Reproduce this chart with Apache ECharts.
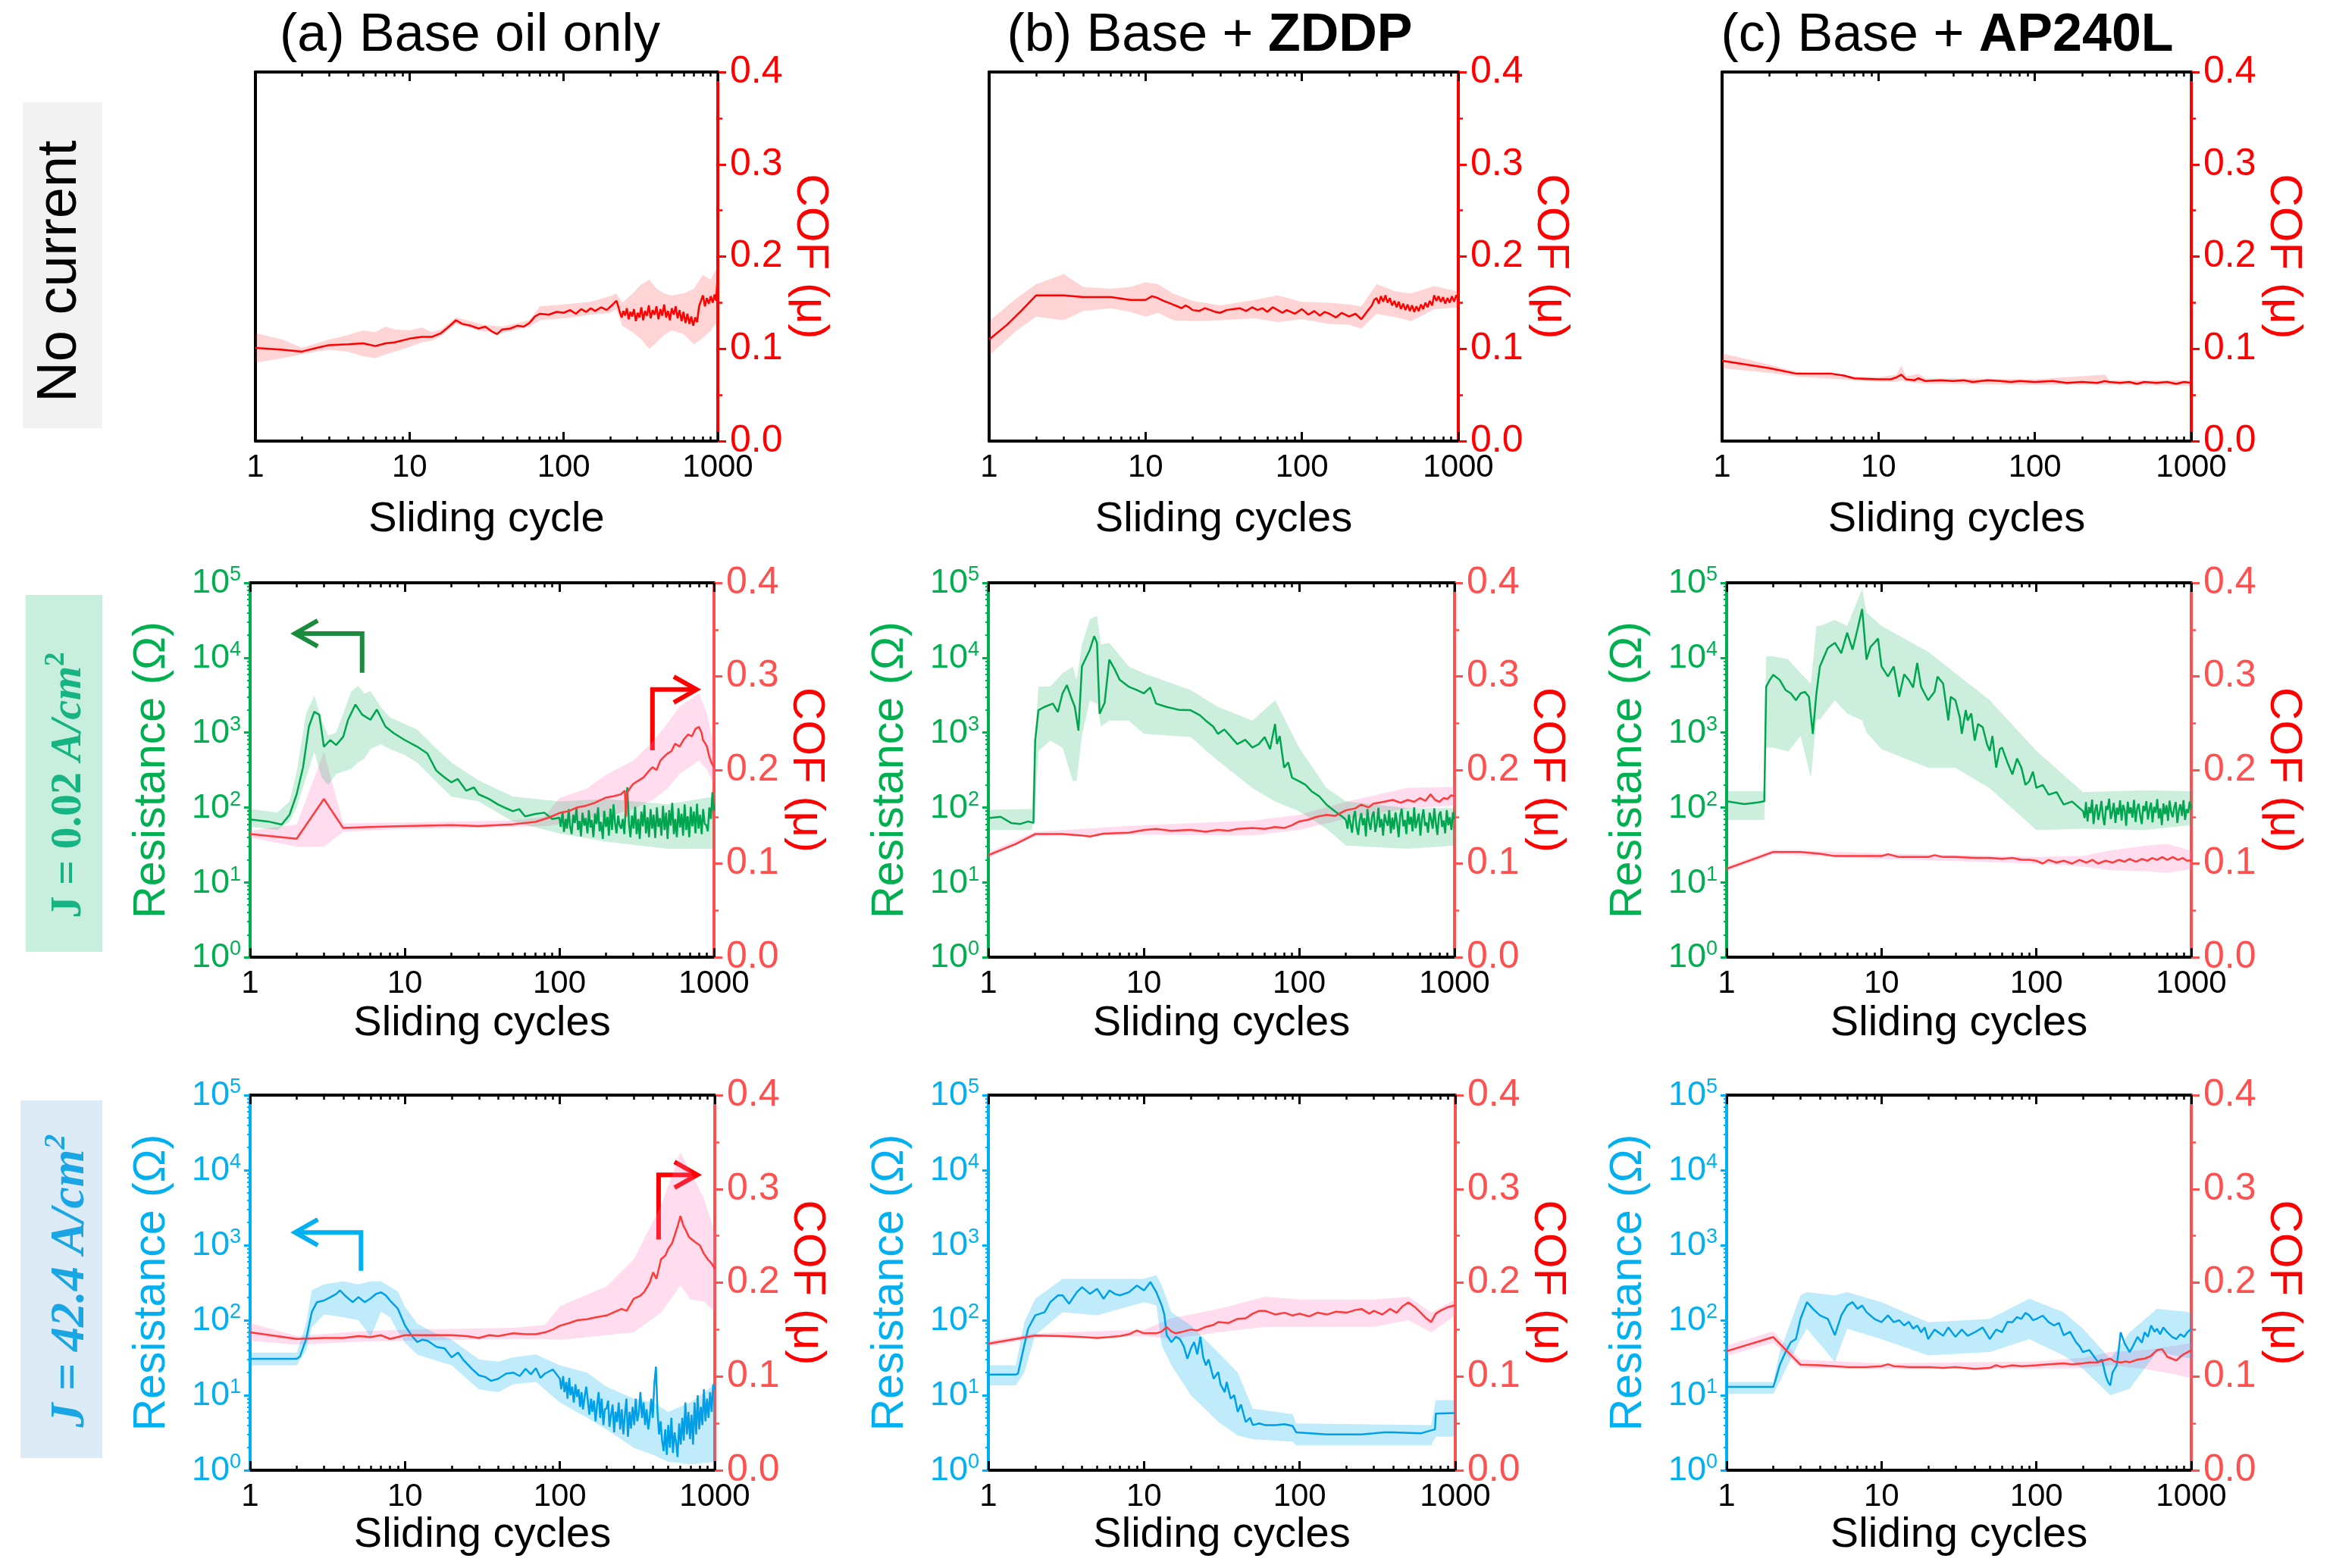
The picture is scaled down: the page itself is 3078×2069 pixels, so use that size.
<!DOCTYPE html>
<html>
<head>
<meta charset="utf-8">
<script src="https://cdn.jsdelivr.net/npm/echarts@6.0.0/dist/echarts.min.js"></script>
<style>
  html, body { margin: 0; padding: 0; background: #fff; }
  #chart { width: 3078px; height: 2069px; }
</style>
</head>
<body>
<div id="chart"></div>
<script>
// ---- labels ----
const colTitles = [
  '{n|(a) Base oil only}',
  '{n|(b) Base + }{b|ZDDP}',
  '{n|(c) Base + }{b|AP240L}'
];
const xNames = ['Sliding cycle', 'Sliding cycles', 'Sliding cycles'];

const denseX = [100,102,105,107,110,112,115,117,120,123,126,129,132,135,138,141,145,148,152,155,159,162,166,170,174,178,182,186,191,195,
  200,205,209,214,219,224,229,234,240,245,251,257,263,269,275,282,288,295,302,309,316,324,331,339,347,355,363,372,380,389,
  398,407,417,427,437,447,457,468,479,490,501,513,525,537,550,562,575,589,603,617,631,646,661,676,692,708,724,741,759,776,
  794,813,832,851,871,891,912,933,955,977,1000];

// ---- row 1 : no current (COF only) ----  [cycle, COF]  /  band [cycle, low, high]
const a1Cof = [[1,0.101],[1.5,0.099],[2,0.097],[2.5,0.101],[3,0.104],[4,0.105],[5,0.106],[6,0.103],[7,0.106],[8,0.107],[10,0.111],[12,0.113],[14,0.113],[16,0.117],[18,0.124],[20,0.131],[22,0.127],[25,0.125],[28,0.122],[31,0.124],[34,0.119],[37,0.116],[40,0.121],[45,0.122],[50,0.125],[55,0.124],[60,0.128],[65,0.135],[70,0.138],[80,0.137],[90,0.140],[100,0.139],[110,0.142],[120,0.138],[130,0.143],[140,0.140],[150,0.144],[160,0.141],[175,0.145],[190,0.142],[205,0.147],[220,0.152],[226,0.146],[232,0.139],[238,0.134],[244,0.141],[250,0.136],[257,0.144],[264,0.132],[271,0.140],[278,0.135],[286,0.143],[294,0.130],[302,0.139],[310,0.134],[319,0.145],[328,0.131],[337,0.141],[347,0.136],[357,0.147],[367,0.133],[378,0.142],[389,0.137],[400,0.146],[412,0.132],[424,0.143],[436,0.136],[449,0.148],[462,0.134],[475,0.141],[489,0.131],[503,0.144],[518,0.137],[533,0.146],[549,0.133],[565,0.142],[582,0.130],[599,0.140],[617,0.128],[635,0.138],[654,0.127],[673,0.135],[693,0.125],[713,0.134],[734,0.129],[756,0.146],[778,0.152],[801,0.158],[825,0.146],[849,0.155],[874,0.149],[900,0.157],[927,0.150],[954,0.159],[975,0.152],[990,0.170],[1000,0.188]];
const a1CofBand = [[1,0.085,0.117],[1.5,0.090,0.110],[2,0.094,0.101],[2.5,0.097,0.106],[3,0.099,0.110],[4,0.097,0.115],[5,0.092,0.120],[6,0.090,0.118],[7,0.094,0.124],[8,0.097,0.121],[10,0.102,0.120],[12,0.107,0.123],[14,0.109,0.118],[16,0.114,0.121],[20,0.127,0.134],[30,0.119,0.126],[40,0.117,0.124],[60,0.124,0.131],[70,0.131,0.146],[100,0.133,0.148],[150,0.137,0.151],[200,0.139,0.157],[220,0.143,0.160],[240,0.125,0.150],[280,0.118,0.160],[320,0.110,0.170],[360,0.100,0.175],[400,0.107,0.165],[450,0.115,0.160],[500,0.120,0.158],[600,0.116,0.160],[700,0.105,0.165],[800,0.112,0.180],[900,0.120,0.175],[1000,0.130,0.190]];

const b1Cof = [[1,0.110],[1.3,0.126],[1.6,0.141],[2,0.158],[3,0.158],[4,0.156],[6,0.156],[8,0.153],[10,0.153],[11,0.157],[12,0.155],[13,0.152],[14,0.150],[15,0.148],[16,0.146],[17,0.144],[18,0.147],[19,0.145],[20,0.142],[22,0.141],[24,0.144],[26,0.142],[28,0.140],[30,0.139],[33,0.142],[36,0.143],[40,0.144],[44,0.141],[48,0.145],[52,0.142],[56,0.144],[60,0.140],[65,0.145],[70,0.142],[75,0.139],[80,0.142],[90,0.138],[100,0.143],[110,0.137],[120,0.141],[130,0.136],[140,0.140],[150,0.138],[165,0.134],[180,0.139],[200,0.135],[220,0.138],[240,0.132],[260,0.140],[280,0.147],[290,0.153],[300,0.155],[310,0.149],[320,0.157],[331,0.151],[342,0.158],[353,0.150],[365,0.155],[377,0.147],[390,0.152],[403,0.145],[416,0.151],[430,0.143],[444,0.149],[459,0.142],[474,0.148],[490,0.141],[506,0.147],[523,0.140],[540,0.146],[558,0.141],[577,0.148],[596,0.143],[616,0.150],[636,0.145],[657,0.152],[679,0.147],[701,0.158],[724,0.152],[748,0.157],[773,0.151],[799,0.156],[825,0.149],[853,0.155],[881,0.150],[910,0.157],[940,0.151],[970,0.158],[1000,0.154]];
const b1CofBand = [[1,0.093,0.130],[1.5,0.120,0.155],[2,0.135,0.170],[3,0.131,0.181],[4,0.141,0.167],[6,0.144,0.165],[8,0.140,0.167],[10,0.135,0.172],[12,0.139,0.170],[15,0.131,0.160],[20,0.130,0.152],[30,0.131,0.147],[50,0.133,0.153],[70,0.129,0.158],[100,0.132,0.151],[150,0.127,0.150],[200,0.126,0.148],[240,0.122,0.146],[300,0.138,0.170],[400,0.134,0.162],[500,0.130,0.160],[700,0.143,0.168],[1000,0.145,0.162]];

const c1Cof = [[1,0.087],[2,0.079],[3,0.073],[5,0.073],[6,0.071],[7,0.068],[10,0.067],[12,0.067],[13,0.069],[14,0.072],[15,0.067],[17,0.066],[18,0.068],[20,0.065],[25,0.066],[30,0.065],[35,0.066],[40,0.064],[50,0.066],[60,0.065],[70,0.064],[80,0.065],[100,0.064],[130,0.065],[160,0.063],[200,0.064],[250,0.063],[280,0.065],[300,0.064],[350,0.063],[400,0.064],[450,0.062],[500,0.064],[600,0.063],[700,0.064],[800,0.062],[900,0.064],[1000,0.063]];
const c1CofBand = [[1,0.079,0.095],[2,0.074,0.083],[3,0.070,0.075],[7,0.066,0.070],[10,0.064,0.069],[13,0.064,0.072],[14,0.066,0.082],[15,0.064,0.070],[18,0.063,0.073],[20,0.062,0.068],[30,0.062,0.068],[100,0.061,0.067],[280,0.061,0.072],[300,0.061,0.066],[1000,0.060,0.066]];

// ---- row 2 : J = 0.02 A/cm2 ----  resistance [cycle, ohm]
const a2ResHead = [[1,69],[1.3,65],[1.6,59],[1.8,80],[2,150],[2.2,345],[2.4,1200],[2.6,1900],[2.8,1730],[3,646],[3.3,794],[3.6,680],[4,880],[4.3,1480],[4.8,2370],[5.3,1740],[6,1480],[6.6,2030],[7.5,1200],[8.5,980],[10,794],[12,650],[14,525],[16,310],[18,253],[20,216],[22,240],[25,167],[28,185],[30,150],[35,130],[40,110],[45,98],[50,89],[55,95],[60,76],[70,82],[80,85],[90,70]];
const a2ResTail = [73,55,88,47,70,52,95,58,44,80, 62,98,50,66,41,85,57,72,45,92, 54,68,40,83,60,100,48,64,38,90,
  55,75,42,96,50,110,62,45,78,58, 52,70,44,102,186,60,40,78,52,102, 44,70,38,88,56,108,45,74,40,95,
  52,80,39,100,55,72,42,105,50,85, 38,92,57,115,44,70,40,98,54,82, 42,110,50,76,40,102,56,88,45,112,
  52,80,44,95,60,58,48,100,70,160, 90];
const a2ResBand = [[1,55,95],[1.5,50,85],[1.8,65,120],[2,100,300],[2.3,250,1800],[2.6,550,3100],[2.9,250,1500],[3.2,200,900],[3.6,280,1000],[4,300,1800],[4.5,330,3500],[5,400,4200],[5.5,450,3300],[6,600,3600],[7,700,2200],[8,600,1600],[10,500,1300],[12,400,1100],[15,250,700],[20,140,400],[30,120,230],[50,65,140],[100,45,120],[200,35,130],[500,28,110],[1000,28,140]];
const a2Cof = [[1,0.1315],[2,0.1265],[3,0.169],[4,0.138],[6,0.139],[10,0.140],[20,0.141],[30,0.140],[50,0.142],[70,0.1445],[85,0.149],[100,0.154],[115,0.156],[130,0.160],[150,0.162],[170,0.165],[185,0.168],[200,0.1705],[225,0.172],[250,0.174],[265,0.178],[270,0.150],[275,0.176],[290,0.182],[300,0.185],[320,0.188],[350,0.192],[375,0.198],[400,0.203],[425,0.200],[450,0.210],[475,0.214],[500,0.2175],[530,0.220],[560,0.228],[600,0.225],[640,0.233],[680,0.238],[720,0.236],[760,0.244],[800,0.246],[830,0.240],[850,0.232],[880,0.228],[900,0.225],[930,0.215],[960,0.208],[1000,0.203]];
const a2CofBand = [[1,0.128,0.135],[2,0.118,0.142],[3,0.118,0.219],[4,0.134,0.143],[10,0.137,0.144],[50,0.139,0.146],[80,0.140,0.150],[100,0.142,0.170],[150,0.148,0.180],[200,0.150,0.195],[300,0.158,0.210],[400,0.168,0.230],[500,0.180,0.250],[600,0.196,0.268],[800,0.210,0.282],[900,0.200,0.260],[1000,0.185,0.225]];

const b2ResHead = [[1,72],[1.2,75],[1.4,62],[1.6,60],[1.8,65],[1.95,62],[2,780],[2.1,1990],[2.3,2200],[2.6,2440],[2.8,1880],[3,3330],[3.2,4300],[3.4,3000],[3.6,2200],[3.8,1060],[4,7630],[4.5,12800],[4.8,19400],[5,15800],[5.2,1780],[5.6,2500],[6,9400],[6.5,7000],[7,5050],[8,4100],[9,3700],[10,3330],[11,4000],[12,2440],[14,2200],[17,2000],[20,1990],[23,1700],[25,1450],[28,1200],[30,960],[33,1100],[35,960],[40,700],[45,800],[50,630],[55,700],[60,870],[65,600],[70,1300],[72,700],[75,900],[80,340],[85,400],[90,250],[100,224],[110,200],[120,165],[135,140],[150,109],[170,89],[190,75]];
const b2ResTail = [68,52,80,61,46,74,90,55,43,66, 84,58,72,41,95,63,50,77,88,47, 60,99,54,70,42,82,65,57,92,45,
  73,51,86,62,40,78,96,56,68,44, 89,59,75,48,100,53,66,83,42,71, 94,57,63,46,85,69,52,97,60,43,
  79,88,55,67,45,92,58,74,50,86, 70];
const b2ResBand = [[1,50,93],[1.9,50,95],[2,100,900],[2.1,570,4100],[2.5,780,4100],[3,630,6200],[3.5,224,7630],[3.7,230,5000],[4,900,15000],[4.5,2700,32600],[5,2400,36000],[5.3,1200,15000],[6,1450,15800],[8,1450,7630],[10,960,6200],[20,870,3700],[30,420,2200],[50,182,1450],[70,120,2700],[100,89,630],[150,52,182],[200,31,120],[500,28,98],[1000,31,98]];
const b2Cof = [[1,0.109],[1.5,0.121],[2,0.1315],[3,0.1315],[4,0.130],[4.5,0.129],[5.5,0.132],[8,0.133],[10,0.1358],[12,0.137],[15,0.135],[20,0.136],[25,0.134],[30,0.136],[35,0.135],[40,0.137],[50,0.138],[60,0.137],[70,0.139],[80,0.138],[90,0.141],[100,0.145],[115,0.147],[130,0.150],[150,0.152],[170,0.151],[200,0.157],[230,0.159],[250,0.163],[280,0.160],[300,0.164],[350,0.166],[400,0.168],[450,0.165],[500,0.168],[550,0.166],[600,0.170],[650,0.167],[700,0.174],[750,0.168],[800,0.166],[850,0.170],[900,0.169],[950,0.173],[1000,0.172]];
const b2CofBand = [[1,0.106,0.112],[2,0.129,0.134],[10,0.131,0.141],[50,0.130,0.146],[100,0.136,0.152],[200,0.148,0.166],[500,0.159,0.181],[1000,0.162,0.182]];

const c2ResHead = [[1,121],[1.3,111],[1.6,117],[1.75,121],[1.8,4100],[1.9,5050],[2,5900],[2.2,5050],[2.4,3700],[2.6,3330],[2.8,2700],[3,3330],[3.2,3500],[3.4,3000],[3.6,960],[3.8,3330],[4,7630],[4.5,13500],[5,15800],[5.5,11500],[6,21500],[6.5,12800],[7,24000],[7.5,44600],[8,9400],[8.5,14000],[9,15800],[9.5,18000],[10,7630],[11,5600],[12,7630],[13,3000],[14,6000],[15,5050],[16,4000],[17,8500],[18,4100],[20,2700],[22,3500],[23,5600],[25,4500],[27,1450],[28,3000],[30,2700],[32,1600],[33,960],[35,2000],[36,1450],[38,1800],[40,780],[42,1300],[45,1180],[48,700],[50,570],[52,900],[55,340],[58,600],[60,630],[65,400],[70,276],[75,450],[80,340],[85,200],[90,224],[95,300],[100,182],[110,200],[120,148],[135,160],[150,109],[170,120]];
const c2ResTail = [89,72,118,65,101,84,127,60,95,110, 68,88,122,75,58,104,93,131,70,86, 115,62,99,80,124,67,108,91,57,119,
  83,100,73,126,64,96,112,78,60,105, 89,121,69,94,116,63,102,85,129,71, 97,58,113,81,107,66,123,88,74,99,
  118,62,92,110,77,125,68,95,84,120, 95];
const c2ResBand = [[1,68,165],[1.75,68,165],[1.8,630,10400],[2,630,10400],[2.5,560,9500],[3,900,6200],[3.5,250,4500],[3.8,1500,26500],[4,1500,26500],[5,2700,32000],[6,1800,26500],[7.5,1450,83000],[8,1000,40000],[10,600,26500],[20,340,12000],[30,340,6200],[50,180,2700],[100,50,570],[200,52,160],[500,50,170],[1000,58,165]];
const c2Cof = [[1,0.0944],[2,0.1124],[3,0.1124],[4,0.1106],[5,0.108],[7,0.108],[10,0.108],[11,0.110],[13,0.107],[15,0.107],[20,0.107],[22,0.109],[25,0.107],[30,0.107],[40,0.106],[50,0.106],[60,0.105],[70,0.106],[80,0.104],[90,0.104],[100,0.103],[110,0.100],[120,0.104],[135,0.101],[150,0.103],[170,0.100],[190,0.104],[210,0.101],[230,0.104],[250,0.100],[280,0.103],[310,0.101],[340,0.104],[370,0.102],[400,0.105],[440,0.102],[480,0.105],[520,0.103],[560,0.106],[600,0.104],[650,0.107],[700,0.104],[760,0.107],[820,0.104],[880,0.106],[940,0.103],[1000,0.1034]];
const c2CofBand = [[1,0.092,0.097],[2,0.110,0.115],[10,0.105,0.111],[100,0.100,0.107],[200,0.097,0.108],[300,0.093,0.114],[500,0.092,0.119],[700,0.090,0.121],[1000,0.094,0.114]];

// ---- row 3 : J = 42.4 A/cm2 ----
const a3ResHead = [[1,30.6],[2,30.6],[2.1,33],[2.3,56],[2.5,128],[2.7,174],[3,183],[3.3,203],[3.6,224],[3.8,250],[4.2,203],[4.6,174],[5,203],[5.5,174],[6,195],[6.5,224],[7,235],[7.5,215],[8,183],[9,142],[10,85],[11,63],[12,51],[13,55],[14,53],[16,44],[18,42],[20,32],[22,37],[24,29],[27,22.5],[30,18.4],[33,17.5],[36,15.5],[40,16.6],[45,19.4],[50,20],[55,18],[60,22.5],[65,19],[70,23],[75,17],[80,19.4],[90,22]];
const a3ResTail = [16.6,12,18,11,15,9,17,10,13,8, 14,9.5,12,7,11,6.5,10,13,8,5.5, 9,6,8.5,4.5,7.5,11,5,9,4,6.5,
  6.6,8.5,3.8,5.5,7.5,3.2,6,4.4,8,3.5, 6.5,3,5.5,9,2.8,6,3.6,7,4,9, 4.5,6,11,5,8,4,6.5,3.5,5,9,5,
  14,24,
  6,3,4.5,2.5,1.8,3.5,1.6,4,2,5, 1.7,3.2,2.4,1.5,4.2,2.2,5,2.5,
  8,3,6,2.6,5.5,2.2,8,3,10,3.5, 7,4,12,4.5,9,5,11,6,14,12];
const a3ResBand = [[1,25,37],[2,25,37],[2.3,40,90],[2.5,80,250],[3,120,300],[4,110,330],[5,100,300],[6,60,330],[7,130,330],[8,110,280],[9,70,240],[10,50,150],[12,35,90],[15,30,70],[20,25,55],[30,12,30],[40,11,28],[50,14,32],[70,15,35],[100,8,25],[150,5,20],[200,3.5,13],[300,2,9],[400,1.6,8],[500,1.3,6],[700,1.2,8],[1000,1.3,14]];
const a3Cof = [[1,0.147],[2,0.140],[3,0.141],[4,0.141],[5,0.143],[6,0.142],[7,0.144],[8,0.140],[9,0.142],[10,0.144],[15,0.144],[20,0.144],[25,0.143],[30,0.141],[35,0.144],[40,0.143],[50,0.146],[60,0.145],[70,0.145],[80,0.147],[90,0.150],[100,0.154],[115,0.157],[130,0.160],[150,0.161],[170,0.163],[200,0.165],[220,0.168],[250,0.172],[270,0.170],[300,0.183],[330,0.186],[350,0.190],[380,0.200],[400,0.211],[420,0.204],[450,0.225],[480,0.229],[500,0.236],[530,0.242],[550,0.250],[580,0.262],[600,0.271],[630,0.260],[650,0.256],[680,0.249],[700,0.247],[750,0.243],[800,0.240],[850,0.231],[900,0.225],[950,0.221],[1000,0.215]];
const a3CofBand = [[1,0.138,0.157],[2,0.134,0.143],[5,0.137,0.148],[10,0.138,0.150],[50,0.140,0.152],[80,0.140,0.155],[100,0.139,0.175],[200,0.144,0.196],[300,0.147,0.225],[450,0.168,0.282],[600,0.197,0.339],[700,0.182,0.318],[850,0.180,0.290],[1000,0.169,0.254]];

const b3Res = [[1,18.8],[1.5,18.8],[1.55,19.5],[1.7,46],[1.8,77],[2,116],[2.3,128],[2.5,174],[2.8,214],[3,214],[3.3,166],[3.7,236],[4,276],[4.5,224],[5,262],[5.5,193],[6,249],[6.5,224],[7,214],[8,236],[9,290],[10,249],[11,322],[12,236],[13,157],[13.5,120],[14,63],[15,51],[16,60],[17,56],[18,45],[19,30.6],[20,42],[21,51],[22,35],[23,60],[24,32],[25,25],[26,30],[28,16.6],[30,20.3],[31,14],[33,11],[34,15],[36,9],[38,10],[40,6],[42,7.5],[45,4.4],[48,5],[50,4.0],[55,4.2],[60,4.0],[70,4.0],[80,4.1],[90,3.9],[92,3.9],[95,3.2],[150,3.0],[200,3.0],[250,3.0],[300,3.1],[350,3.2],[400,3.2],[500,3.15],[600,3.1],[700,3.4],[740,3.5],[750,5.7],[1000,5.8]];
const b3ResBand = [[1,13.5,25],[1.5,13.5,25],[1.7,20,94],[2,63,193],[3,128,355],[5,116,355],[10,174,355],[12,157,396],[13,46,290],[15,25,128],[20,10,85],[30,4.4,37],[40,2.9,20],[50,2.6,6.6],[90,2.4,5.6],[95,2.15,4.2],[700,2.15,4.0],[750,2.8,8.6],[1000,2.8,8.6]];
const b3Cof = [[1,0.135],[1.5,0.140],[2,0.1437],[3,0.143],[4,0.142],[5,0.141],[6,0.142],[7,0.143],[8,0.145],[9,0.149],[10,0.146],[12,0.146],[13,0.148],[14,0.1526],[15,0.148],[16,0.146],[18,0.148],[20,0.150],[22,0.149],[25,0.153],[28,0.155],[30,0.158],[35,0.157],[40,0.1615],[45,0.162],[50,0.167],[55,0.170],[60,0.170],[70,0.166],[80,0.168],[90,0.165],[100,0.167],[115,0.164],[130,0.168],[150,0.166],[170,0.169],[200,0.168],[230,0.171],[250,0.172],[280,0.167],[300,0.170],[340,0.166],[380,0.172],[420,0.168],[460,0.175],[500,0.179],[550,0.174],[600,0.168],[650,0.162],[700,0.158],[750,0.167],[800,0.170],[900,0.174],[1000,0.176]];
const b3CofBand = [[1,0.132,0.138],[2,0.141,0.146],[10,0.143,0.150],[15,0.140,0.162],[30,0.147,0.172],[60,0.153,0.185],[100,0.153,0.182],[300,0.153,0.182],[500,0.160,0.185],[700,0.147,0.168],[1000,0.165,0.182]];

const c3Res = [[1,12.9],[2,12.9],[2.05,15],[2.2,25],[2.4,37.6],[2.6,51],[2.8,56],[3,104],[3.3,174],[3.6,142],[4,116],[4.5,104],[5,63],[5.5,116],[6,157],[6.5,174],[7,142],[7.5,157],[8,128],[9,104],[10,94],[11,116],[12,94],[13,100],[14,85],[15,95],[16,77],[17,85],[18,69],[19,80],[20,56],[22,75],[25,62],[27,80],[30,60],[33,75],[36,62],[40,69],[45,80],[50,56],[55,75],[60,69],[65,95],[70,94],[75,110],[80,104],[85,125],[90,116],[95,100],[100,104],[110,115],[120,94],[130,85],[140,92],[150,63],[165,70],[180,51],[190,45],[200,37.6],[220,40],[250,27.7],[265,30],[280,18.4],[290,15],[300,13.5],[310,20],[330,25],[340,40],[350,69],[370,50],[400,37.6],[420,45],[450,60],[480,50],[500,69],[525,60],[550,85],[580,70],[600,77],[630,65],[660,80],[700,69],[750,60],[800,56],[850,65],[900,60],[950,70],[1000,77]];
const c3ResBand = [[1,10.5,15],[2,10.5,15],[2.2,15,37.6],[3,56,214],[3.3,77,236],[5,27.7,214],[6,77,236],[10,56,174],[20,34,94],[50,37.6,104],[90,56,193],[150,34,128],[200,22.5,77],[300,10,30.6],[400,12.2,69],[600,37.6,142],[1000,30.6,128]];
const c3Cof = [[1,0.127],[2,0.142],[3,0.1125],[4,0.112],[5,0.111],[6,0.110],[8,0.110],[10,0.111],[11,0.113],[12,0.111],[15,0.110],[20,0.110],[25,0.109],[30,0.110],[40,0.108],[50,0.109],[55,0.112],[60,0.110],[70,0.112],[80,0.111],[100,0.112],[120,0.113],[150,0.114],[170,0.113],[200,0.114],[220,0.115],[250,0.115],[270,0.117],[300,0.119],[320,0.116],[350,0.115],[380,0.116],[400,0.115],[450,0.118],[500,0.119],[550,0.122],[600,0.128],[650,0.129],[700,0.121],[750,0.119],[800,0.117],[850,0.121],[900,0.124],[950,0.126],[1000,0.128]];
const c3CofBand = [[1,0.122,0.133],[2,0.136,0.148],[3,0.109,0.118],[10,0.108,0.114],[100,0.108,0.116],[200,0.109,0.120],[300,0.112,0.126],[500,0.108,0.128],[800,0.102,0.133],[1000,0.098,0.136]];

// head of a trace + its noisy tail read at the denseX cycles from `start` on
function withTail(head, start, tail) {
  const xs = denseX.filter(x => x >= start);
  return head.concat(xs.map((x, k) => [x, tail[k]]));
}

// ---- layout / styles ----
const FONT = '"Liberation Sans", Arial, sans-serif';
const SERIF = '"Liberation Serif", "DejaVu Serif", serif';

const panels = [
  { r: 0, c: 0, cof: a1Cof, cofBand: a1CofBand, box: [337, 95, 610, 487] },
  { r: 0, c: 1, cof: b1Cof, cofBand: b1CofBand, box: [1305, 95, 619, 487] },
  { r: 0, c: 2, cof: c1Cof, cofBand: c1CofBand, box: [2272, 95, 619, 487] },
  { r: 1, c: 0, res: withTail(a2ResHead, 100, a2ResTail), resBand: a2ResBand, cof: a2Cof, cofBand: a2CofBand, box: [330, 769, 612, 494] },
  { r: 1, c: 1, res: withTail(b2ResHead, 200, b2ResTail), resBand: b2ResBand, cof: b2Cof, cofBand: b2CofBand, box: [1304, 769, 615, 494] },
  { r: 1, c: 2, res: withTail(c2ResHead, 200, c2ResTail), resBand: c2ResBand, cof: c2Cof, cofBand: c2CofBand, box: [2278, 769, 613, 494] },
  { r: 2, c: 0, res: withTail(a3ResHead, 100, a3ResTail), resBand: a3ResBand, cof: a3Cof, cofBand: a3CofBand, box: [330, 1445, 613, 495] },
  { r: 2, c: 1, res: b3Res, resBand: b3ResBand, cof: b3Cof, cofBand: b3CofBand, box: [1304, 1445, 616, 495] },
  { r: 2, c: 2, res: c3Res, resBand: c3ResBand, cof: c3Cof, cofBand: c3CofBand, box: [2278, 1445, 613, 495] }
];

const rowStyle = [
  { cofLine: '#FF0000', cofBand: 'rgba(255,40,40,0.2)', cofAxis: '#FF0000', xGap: 76 },
  { res: '#00B050', resLine: '#00A550', resBand: 'rgba(0,170,80,0.2)',
    cofLine: '#FF3A3A', cofBand: 'rgba(255,120,190,0.25)', cofAxis: '#FF5050', xGap: 60 },
  { res: '#00B0F0', resLine: '#00A0E8', resBand: 'rgba(0,176,240,0.25)',
    cofLine: '#FF3A3A', cofBand: 'rgba(255,120,190,0.25)', cofAxis: '#FF5050', xGap: 58 }
];

function bandSeries(band, xi, yi, color) {
  return {
    type: 'custom', xAxisIndex: xi, yAxisIndex: yi, silent: true, clip: true, z: 1,
    data: [[band[0][0], band[0][1]]],
    renderItem: function (params, api) {
      const top = band.map(d => api.coord([d[0], d[2]]));
      const bot = band.slice().reverse().map(d => api.coord([d[0], d[1]]));
      return { type: 'polygon', shape: { points: top.concat(bot) }, style: { fill: color } };
    }
  };
}

function lineSeries(data, xi, yi, color, z) {
  return {
    type: 'line', xAxisIndex: xi, yAxisIndex: yi, data: data, z: z,
    showSymbol: false, symbol: 'none', silent: true, clip: true,
    lineStyle: { color: color, width: 2.5 }
  };
}

const grid = [], xAxis = [], yAxis = [], series = [];

panels.forEach((p, i) => {
  const st = rowStyle[p.r];
  grid.push({ left: p.box[0], top: p.box[1], width: p.box[2], height: p.box[3] });

  // bottom x axis with labels
  xAxis.push({
    type: 'log', logBase: 10, min: 1, max: 1000, gridIndex: i, position: 'bottom',
    name: p.r === 0 ? xNames[p.c] : 'Sliding cycles',
    nameLocation: 'middle', nameGap: st.xGap,
    nameTextStyle: { color: '#000', fontSize: 56, fontFamily: FONT },
    axisLine: { show: true, onZero: false, lineStyle: { color: '#000', width: 4 } },
    axisTick: { show: true, inside: true, length: 12, lineStyle: { color: '#000', width: 3 } },
    minorTick: { show: true, splitNumber: 9, length: 6, lineStyle: { color: '#000', width: 2.5 } },
    axisLabel: { color: '#000', fontSize: 42, margin: 14, fontFamily: FONT,
      formatter: v => String(Math.round(v)) },
    splitLine: { show: false }, minorSplitLine: { show: false }
  });
  // top frame
  xAxis.push({
    type: 'log', logBase: 10, min: 1, max: 1000, gridIndex: i, position: 'top',
    axisLine: { show: true, onZero: false, lineStyle: { color: '#000', width: 4 } },
    axisTick: { show: true, inside: true, length: 12, lineStyle: { color: '#000', width: 3 } },
    minorTick: { show: true, splitNumber: 9, length: 6, lineStyle: { color: '#000', width: 2.5 } },
    axisLabel: { show: false }, splitLine: { show: false }
  });

  // right COF axis
  yAxis.push({
    type: 'value', gridIndex: i, position: 'right', min: 0, max: 0.4, interval: 0.1,
    name: 'COF (μ)', nameLocation: 'middle', nameGap: 92, nameRotate: -90,
    nameTextStyle: { color: '#FF0000', fontSize: 60, fontFamily: FONT },
    axisLine: { show: true, onZero: false, lineStyle: { color: st.cofAxis, width: 4 } },
    axisTick: { show: true, inside: false, length: 11, lineStyle: { color: st.cofAxis, width: 3 } },
    minorTick: { show: true, splitNumber: 2, length: 6, lineStyle: { color: st.cofAxis, width: 2.5 } },
    axisLabel: { color: st.cofAxis, fontSize: 50, margin: 16, fontFamily: FONT,
      formatter: v => v.toFixed(1) },
    splitLine: { show: false }
  });

  // left axis
  if (p.res) {
    yAxis.push({
      type: 'log', logBase: 10, gridIndex: i, position: 'left', min: 1, max: 100000, splitNumber: 5,
      name: 'Resistance (Ω)', nameLocation: 'middle', nameGap: 100, nameRotate: 90,
      nameTextStyle: { color: st.res, fontSize: 59, fontFamily: FONT },
      axisLine: { show: true, onZero: false, lineStyle: { color: st.res, width: 4 } },
      axisTick: { show: true, inside: false, length: 8, lineStyle: { color: st.res, width: 3 } },
      minorTick: { show: true, splitNumber: 9, length: 4, lineStyle: { color: st.res, width: 2 } },
      axisLabel: {
        margin: 12,
        formatter: v => '{b|10}{s|' + Math.round(Math.log10(v)) + '}',
        rich: {
          b: { color: st.res, fontSize: 45, fontFamily: FONT, verticalAlign: 'bottom' },
          s: { color: st.res, fontSize: 27, fontFamily: FONT, verticalAlign: 'bottom', padding: [0, 0, 20, 0] }
        }
      },
      splitLine: { show: false }
    });
  } else {
    yAxis.push({
      type: 'value', gridIndex: i, position: 'left', min: 0, max: 1,
      axisLine: { show: true, onZero: false, lineStyle: { color: '#000', width: 4 } },
      axisTick: { show: false }, axisLabel: { show: false }, splitLine: { show: false }
    });
  }

  const xi = 2 * i, yc = 2 * i, yr = 2 * i + 1;
  series.push(bandSeries(p.cofBand, xi, yc, st.cofBand));
  if (p.res) {
    series.push(bandSeries(p.resBand, xi, yr, st.resBand));
    series.push(lineSeries(p.res, xi, yr, st.resLine, 2));
  }
  series.push(lineSeries(p.cof, xi, yc, st.cofLine, 3));
});

// titles and row labels
const colCenters = [620, 1596, 2569];
const graphic = [];
colTitles.forEach((t, k) => {
  graphic.push({
    type: 'text', x: colCenters[k], y: 48, silent: true,
    style: {
      text: t, align: 'center', verticalAlign: 'middle',
      rich: {
        n: { fontSize: 70, fontFamily: FONT, fill: '#000' },
        b: { fontSize: 70, fontFamily: FONT, fontWeight: 'bold', fill: '#000' }
      }
    }
  });
});

graphic.push(
  { type: 'rect', shape: { x: 30, y: 135, width: 105, height: 430 }, style: { fill: '#F2F2F2' }, silent: true },
  { type: 'text', x: 80, y: 358, rotation: Math.PI / 2, silent: true,
    style: { text: 'No current', align: 'center', verticalAlign: 'middle',
      fontSize: 74, fontFamily: FONT, fill: '#000' } },
  { type: 'rect', shape: { x: 34, y: 785, width: 101, height: 471 }, style: { fill: '#C8EEDD' }, silent: true },
  { type: 'text', x: 88, y: 1036, rotation: Math.PI / 2, silent: true,
    style: { text: '{r|J = 0.02 }{i|A/cm}{s|2}', align: 'center', verticalAlign: 'middle',
      rich: {
        r: { fontSize: 58, fontFamily: SERIF, fontWeight: 'bold', fill: '#16B383', verticalAlign: 'bottom' },
        i: { fontSize: 58, fontFamily: SERIF, fontWeight: 'bold', fontStyle: 'italic', fill: '#16B383', verticalAlign: 'bottom' },
        s: { fontSize: 37, fontFamily: SERIF, fontWeight: 'bold', fill: '#16B383', verticalAlign: 'bottom', padding: [0, 0, 27, 0] }
      } } },
  { type: 'rect', shape: { x: 27, y: 1452, width: 108, height: 472 }, style: { fill: '#DDEBF7' }, silent: true },
  { type: 'text', x: 90, y: 1690, rotation: Math.PI / 2, silent: true,
    style: { text: '{i|J = 42.4 A/cm}{s|2}', align: 'center', verticalAlign: 'middle',
      rich: {
        i: { fontSize: 64, fontFamily: SERIF, fontWeight: 'bold', fontStyle: 'italic', fill: '#1AA6E4', verticalAlign: 'bottom' },
        s: { fontSize: 40, fontFamily: SERIF, fontWeight: 'bold', fontStyle: 'italic', fill: '#1AA6E4', verticalAlign: 'bottom', padding: [0, 0, 30, 0] }
      } } }
);

const chart = echarts.init(document.getElementById('chart'));
chart.setOption({
  animation: false,
  backgroundColor: '#fff',
  textStyle: { fontFamily: FONT },
  grid: grid, xAxis: xAxis, yAxis: yAxis, series: series, graphic: graphic
});

// "read this axis" arrows, placed in data coordinates of their panel
// [panel, which y axis, x of stem, y bottom, y top, x of tip, color]
const arrows = [
  [3, 'res', 5.3, 6300, 21000, 1.95, '#1A8B3C'],
  [3, 'cof', 400, 0.221, 0.286, 771, '#FF0000'],
  [6, 'res', 5.2, 457, 1480, 1.95, '#00B0F0'],
  [6, 'cof', 434, 0.246, 0.315, 771, '#FF0000']
];
const arrowGraphics = arrows.map(a => {
  const q = { xAxisIndex: 2 * a[0], yAxisIndex: a[1] === 'res' ? 2 * a[0] + 1 : 2 * a[0] };
  const p0 = chart.convertToPixel(q, [a[2], a[3]]);
  const p1 = chart.convertToPixel(q, [a[2], a[4]]);
  const p2 = chart.convertToPixel(q, [a[5], a[4]]);
  const dir = p2[0] > p1[0] ? 1 : -1;
  return {
    type: 'group', silent: true,
    children: [
      { type: 'polyline', shape: { points: [p0, p1, p2] },
        style: { stroke: a[6], lineWidth: 6, fill: null, lineJoin: 'miter' } },
      { type: 'polyline', shape: { points: [[p2[0] - dir * 30, p2[1] - 17], p2, [p2[0] - dir * 30, p2[1] + 17]] },
        style: { stroke: a[6], lineWidth: 6, fill: null } }
    ]
  };
});
chart.setOption({ graphic: graphic.concat(arrowGraphics) });
</script>
</body>
</html>
